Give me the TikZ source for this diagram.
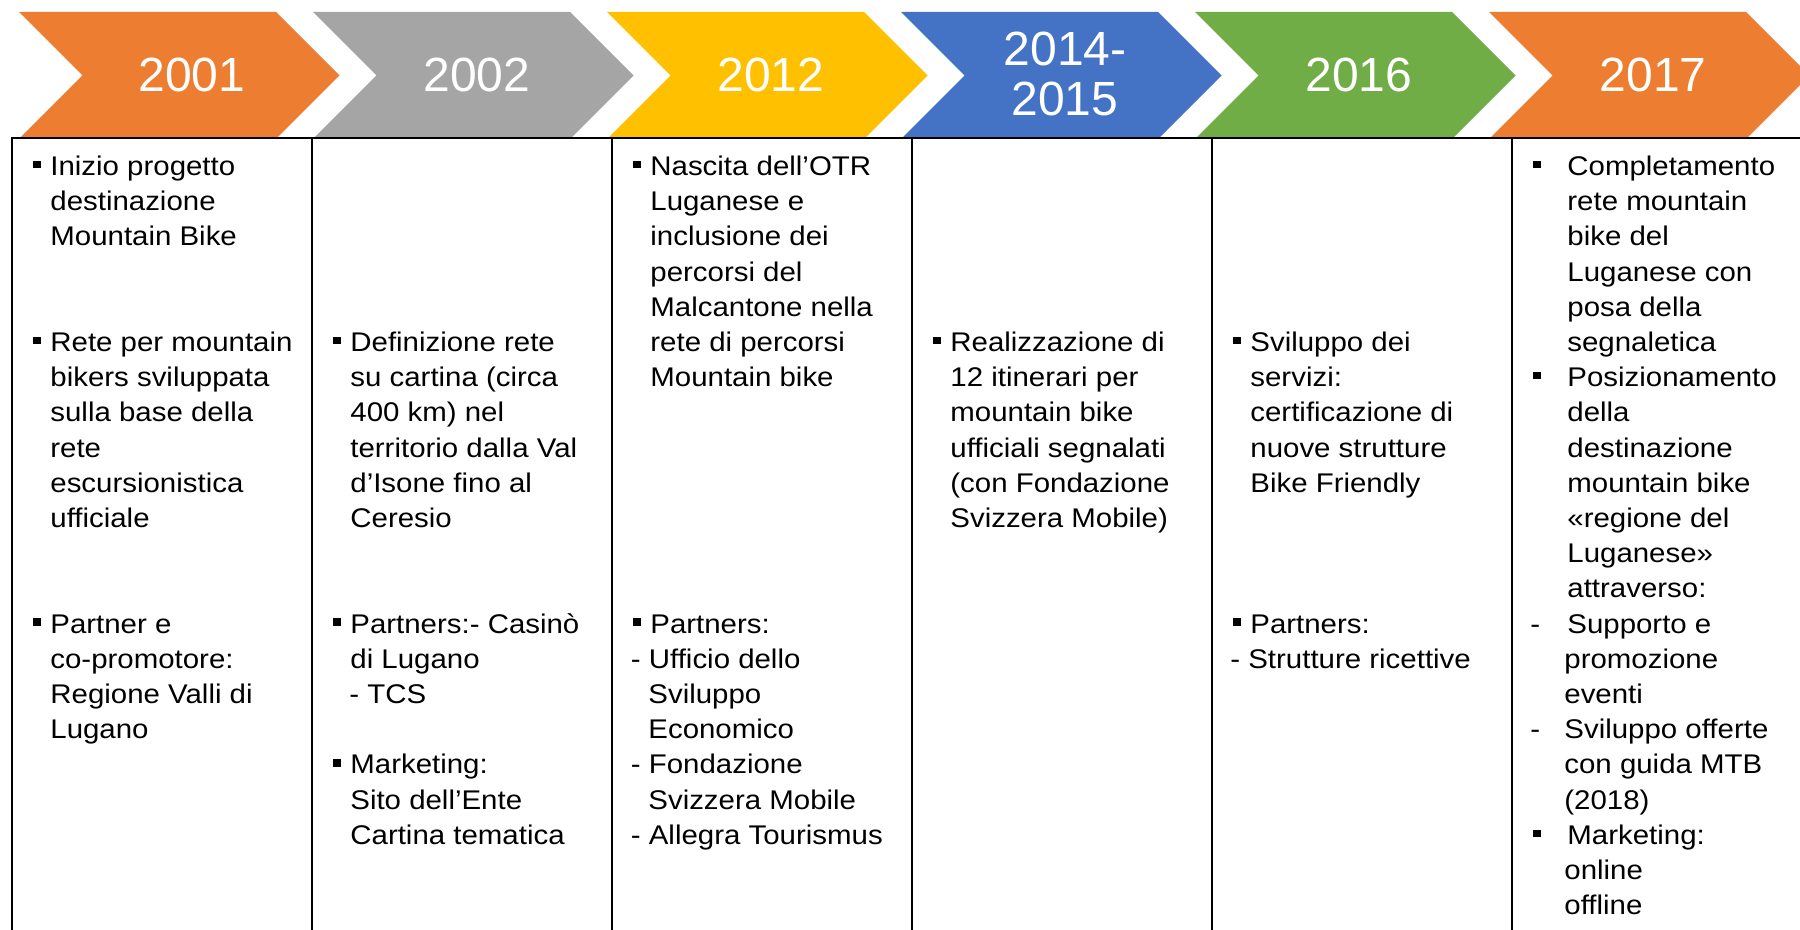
\documentclass[tikz,border=0pt]{standalone}
\usepackage{fontspec}
\newfontfamily\bodyf{Liberation Sans}[FakeStretch=1.09]
\newfontfamily\yearf{Liberation Sans}
\definecolor{cOrange}{HTML}{ED7D31}
\definecolor{cGray}{HTML}{A5A5A5}
\definecolor{cYellow}{HTML}{FFC000}
\definecolor{cBlue}{HTML}{4472C4}
\definecolor{cGreen}{HTML}{70AD47}
\tikzset{
  tx/.style={font=\bodyf\fontsize{13.5}{16}\selectfont, inner sep=0pt, anchor=base west, text=black},
  bul/.style={rectangle, fill=black, minimum size=3.7pt, inner sep=0pt},
  yr/.style={font=\yearf\fontsize{24}{26}\selectfont, inner sep=0pt, anchor=base, text=white},
  tbl/.style={draw=black, line width=1pt}
}
% line: name, x, line index, text
\newcommand\tline[4]{\node[tx] (#1) at ({#2},{175.5+35.2*(#3)}) {#4};}
% bullet: name, column line x, line index
\newcommand\tbul[3]{\node[bul] (#1) at ({#2+25.5},{175.5+35.2*(#3)-11}) {};}
% chevron: left x, colour
\newcommand\chevshape[2]{\fill[#2] ({#1},12) -- ({#1+257},12) -- ({#1+320.5},75.5) -- ({#1+257},139) -- ({#1},139) -- ({#1+63.5},75.5) -- cycle;}
\begin{document}
\begin{tikzpicture}[x=0.5pt,y=-0.5pt]
\useasboundingbox (0,0) rectangle (1800,930);
\fill[white] (0,0) rectangle (1800,930);
\clip (0,0) rectangle (1800,930);
% chevrons
\chevshape{19}{cOrange}
\chevshape{313}{cGray}
\chevshape{607}{cYellow}
\chevshape{901}{cBlue}
\chevshape{1195}{cGreen}
\chevshape{1489}{cOrange}
\node[yr] (y2001) at (192,91.5) {2001};
\node[yr] (y2002) at (477,91.5) {2002};
\node[yr] (y2012) at (771,91.5) {2012};
\node[yr] (y2014) at (1065,66) {2014-};
\node[yr] (y2015) at (1065,116) {2015};
\node[yr] (y2016) at (1359,91.5) {2016};
\node[yr] (y2017) at (1653,91.5) {2017};
% table
\coordinate (tl) at (11.5,138);
\coordinate (tr) at (1800,138);
\fill[white] (0,137) rectangle (1800,930);
\draw[tbl] (11.5,930) -- (tl) -- (tr);
\foreach \cx in {311.5,611.5,911.5,1211.5,1511.5}{\draw[tbl] (\cx,138) -- (\cx,930);}
% column 1
\tbul{b1a}{11.5}{0}
\tline{c1a}{50}{0}{Inizio progetto}
\tline{c1b}{50}{1}{destinazione}
\tline{c1c}{50}{2}{Mountain Bike}
\tbul{b1b}{11.5}{5}
\tline{c1d}{50}{5}{Rete per mountain}
\tline{c1e}{50}{6}{bikers sviluppata}
\tline{c1f}{50}{7}{sulla base della}
\tline{c1g}{50}{8}{rete}
\tline{c1h}{50}{9}{escursionistica}
\tline{c1i}{50}{10}{ufficiale}
\tbul{b1c}{11.5}{13}
\tline{c1j}{50}{13}{Partner e}
\tline{c1k}{50}{14}{co-promotore:}
\tline{c1l}{50}{15}{Regione Valli di}
\tline{c1m}{50}{16}{Lugano}
% column 2
\tbul{b2a}{311.5}{5}
\tline{c2a}{350}{5}{Definizione rete}
\tline{c2b}{350}{6}{su cartina (circa}
\tline{c2c}{350}{7}{400 km) nel}
\tline{c2d}{350}{8}{territorio dalla Val}
\tline{c2e}{350}{9}{d’Isone fino al}
\tline{c2f}{350}{10}{Ceresio}
\tbul{b2b}{311.5}{13}
\tline{c2g}{350}{13}{Partners:- Casinò}
\tline{c2h}{350}{14}{di Lugano}
\tline{c2i}{349}{15}{- TCS}
\tbul{b2c}{311.5}{17}
\tline{c2j}{350}{17}{Marketing:}
\tline{c2k}{350}{18}{Sito dell’Ente}
\tline{c2l}{350}{19}{Cartina tematica}
% column 3
\tbul{b3a}{611.5}{0}
\tline{c3a}{650}{0}{Nascita dell’OTR}
\tline{c3b}{650}{1}{Luganese e}
\tline{c3c}{650}{2}{inclusione dei}
\tline{c3d}{650}{3}{percorsi del}
\tline{c3e}{650}{4}{Malcantone nella}
\tline{c3f}{650}{5}{rete di percorsi}
\tline{c3g}{650}{6}{Mountain bike}
\tbul{b3b}{611.5}{13}
\tline{c3h}{650}{13}{Partners:}
\tline{c3i}{630.5}{14}{- Ufficio dello}
\tline{c3j}{648}{15}{Sviluppo}
\tline{c3k}{648}{16}{Economico}
\tline{c3l}{630.5}{17}{- Fondazione}
\tline{c3m}{648}{18}{Svizzera Mobile}
\tline{c3n}{630.5}{19}{- Allegra Tourismus}
% column 4
\tbul{b4a}{911.5}{5}
\tline{c4a}{950}{5}{Realizzazione di}
\tline{c4b}{950}{6}{12 itinerari per}
\tline{c4c}{950}{7}{mountain bike}
\tline{c4d}{950}{8}{ufficiali segnalati}
\tline{c4e}{950}{9}{(con Fondazione}
\tline{c4f}{950}{10}{Svizzera Mobile)}
% column 5
\tbul{b5a}{1211.5}{5}
\tline{c5a}{1250}{5}{Sviluppo dei}
\tline{c5b}{1250}{6}{servizi:}
\tline{c5c}{1250}{7}{certificazione di}
\tline{c5d}{1250}{8}{nuove strutture}
\tline{c5e}{1250}{9}{Bike Friendly}
\tbul{b5b}{1211.5}{13}
\tline{c5f}{1250}{13}{Partners:}
\tline{c5g}{1230}{14}{- Strutture ricettive}
% column 6
\tbul{b6a}{1511.5}{0}
\tline{c6a}{1567}{0}{Completamento}
\tline{c6b}{1567}{1}{rete mountain}
\tline{c6c}{1567}{2}{bike del}
\tline{c6d}{1567}{3}{Luganese con}
\tline{c6e}{1567}{4}{posa della}
\tline{c6f}{1567}{5}{segnaletica}
\tbul{b6b}{1511.5}{6}
\tline{c6g}{1567}{6}{Posizionamento}
\tline{c6h}{1567}{7}{della}
\tline{c6i}{1567}{8}{destinazione}
\tline{c6j}{1567}{9}{mountain bike}
\tline{c6k}{1567}{10}{«regione del}
\tline{c6l}{1567}{11}{Luganese»}
\tline{c6m}{1567}{12}{attraverso:}
\tline{d6a}{1530}{13}{-}
\tline{c6n}{1567}{13}{Supporto e}
\tline{c6o}{1564}{14}{promozione}
\tline{c6p}{1564}{15}{eventi}
\tline{d6b}{1530}{16}{-}
\tline{c6q}{1564}{16}{Sviluppo offerte}
\tline{c6r}{1564}{17}{con guida MTB}
\tline{c6s}{1564}{18}{(2018)}
\tbul{b6c}{1511.5}{19}
\tline{c6t}{1567}{19}{Marketing:}
\tline{c6u}{1564}{20}{online}
\tline{c6v}{1564}{21}{offline}
\end{tikzpicture}
\end{document}
